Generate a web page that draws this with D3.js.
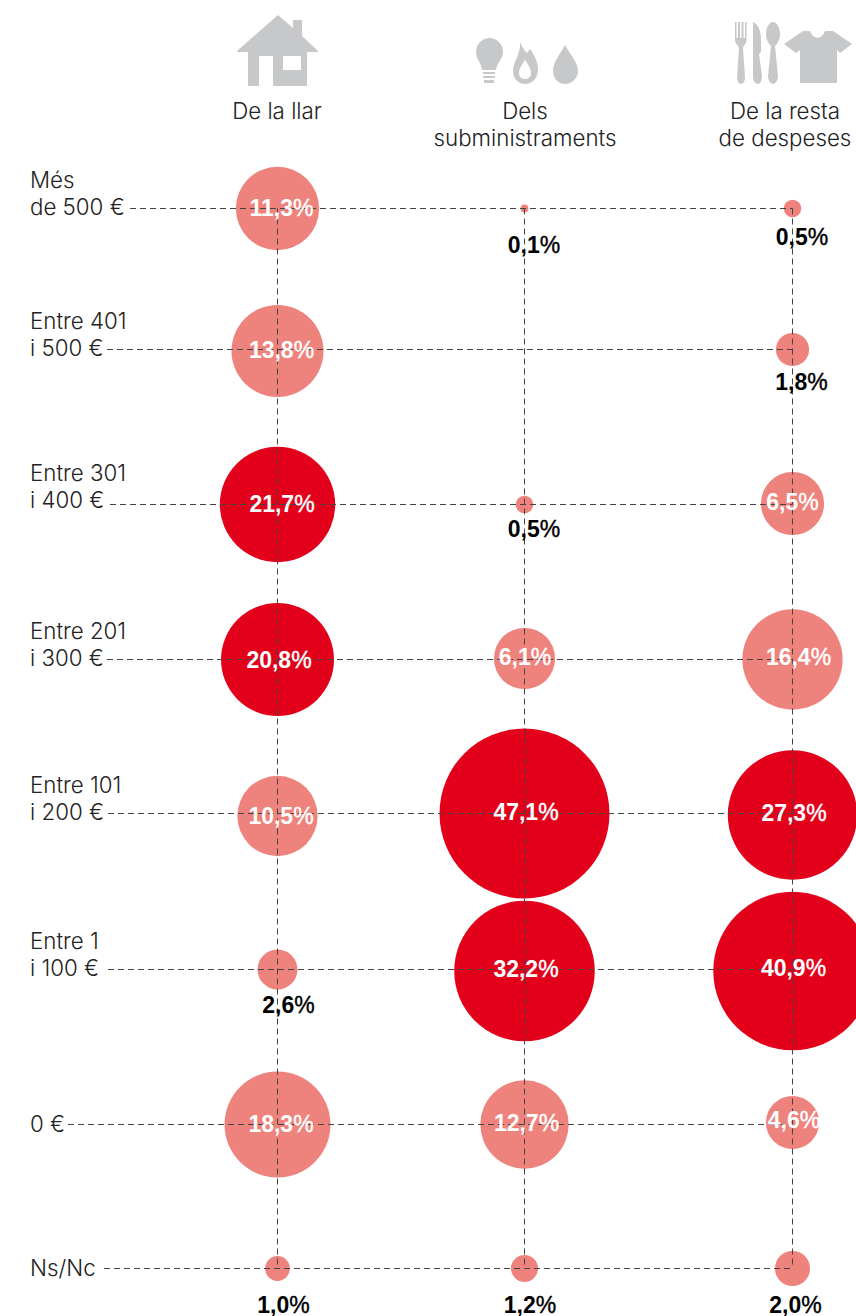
<!DOCTYPE html>
<html lang="ca">

<head>
  <meta charset="utf-8" />
  <title>Despeses</title>
  <script src="https://d3js.org/d3.v7.min.js"></script>
  <style>
    body {
      margin: 0;
      background: #fff;
      font-family: "Inter", "Liberation Sans", sans-serif;
    }

    svg {
      display: block;
    }

    .head,
    .row {
      font-size: 22.3px;
      font-weight: 300;
      fill: #222;
    }

    .val {
      font-family: "Liberation Sans", sans-serif;
      font-size: 23px;
      font-weight: bold;
      text-anchor: middle;
    }

    .val tspan {
      font-weight: normal;
      stroke-width: 0.4px;
    }

    .guide {
      stroke: #444;
      stroke-width: 1;
      stroke-dasharray: 6 4;
    }

    .icon {
      fill: #c6c8ca;
    }
  </style>
</head>

<body>
  <svg width="856" height="1316"></svg>

  <script>
    const columns = ["De la llar", "Dels subministraments", "De la resta de despeses"];
    const rows = ["Més de 500 €", "Entre 401 i 500 €", "Entre 301 i 400 €", "Entre 201 i 300 €",
      "Entre 101 i 200 €", "Entre 1 i 100 €", "0 €", "Ns/Nc"];

    const llar = [11.3, 13.8, 21.7, 20.8, 10.5, 2.6, 18.3, 1.0];
    const subministraments = [0.1, null, 0.5, 6.1, 47.1, 32.2, 12.7, 1.2];
    const resta = [0.5, 1.8, 6.5, 16.4, 27.3, 40.9, 4.6, 2.0];

    const series = [llar, subministraments, resta];

    const svg = d3.select("svg");

    const x = d3.scaleOrdinal().domain(columns).range([277.5, 524.5, 792.5]);
    const y = d3.scaleOrdinal().domain(rows).range([208.5, 349.5, 504.5, 659.5, 813.5, 969.5, 1124.5, 1268.5]);
    const r = d3.scaleSqrt().domain([0, 47.1]).range([0, 85]);

    const color = (v) => (v >= 20 ? "#e2001a" : "#ee827c");
    const textColor = (v) => (v < 4 ? "#000" : "#fff");

    // the circles do not sit exactly on the guides in the original
    const circleDy = [
      [0, 1.5, 0, 0, 2.5, 0, 0, 0],
      [0, 0, 0, -1, 0, 1.5, 0, 0],
      [0, 0, -1, 0, 1.5, 1.5, -2, 0],
    ];

    // hand placement of the value labels, one offset per cell
    const labelDx = [
      [4, 4, 4.5, 1.5, 3.5, 11, 3.5, 6],
      [9.5, 0, 9.5, 0.5, 1.5, 1.5, 2, 5.5],
      [9.5, 9, 0, 6, 1.5, 1, 1.5, 3],
    ];
    const labelDy = [
      [7, 8, 7, 8, 10, 43, 7, 44],
      [44, 0, 32, 5, 6, 7, 6, 44],
      [36, 40, 5, 5, 7, 6, 3, 44],
    ];

    // lines of each row label and where its dashes begin
    const rowLines = [["Més", "de 500 €"], ["Entre 401", "i 500 €"], ["Entre 301", "i 400 €"], ["Entre 201", "i 300 €"],
      ["Entre 101", "i 200 €"], ["Entre 1", "i 100 €"], ["0 €"], ["Ns/Nc"]];
    const lineStart = [130, 107, 110, 107, 108, 108, 68, 104];
    const rowBaseline = [6, 6, 3, 6, 6, 6, 7, 7];

    const cells = [];
    series.forEach((values, c) => {
      values.forEach((v, i) => {
        if (v !== null) cells.push({ col: columns[c], row: rows[i], value: v, c, i });
      });
    });

    // circles first, the dashed guides run over them
    svg.append("g")
      .selectAll("circle")
      .data(cells)
      .join("circle")
      .attr("cx", (d) => x(d.col))
      .attr("cy", (d) => y(d.row) + circleDy[d.c][d.i])
      .attr("r", (d) => r(d.value))
      .attr("fill", (d) => color(d.value));

    svg.append("g")
      .selectAll("line")
      .data(rows)
      .join("line")
      .attr("class", "guide")
      .attr("x1", (d, i) => lineStart[i])
      .attr("x2", x(columns[2]))
      .attr("y1", (d) => y(d))
      .attr("y2", (d) => y(d));

    svg.append("g")
      .selectAll("line")
      .data(columns)
      .join("line")
      .attr("class", "guide")
      .attr("x1", (d) => x(d))
      .attr("x2", (d) => x(d))
      .attr("y1", y(rows[0]))
      .attr("y2", y(rows[7]));

    const fmt = (v) => v.toFixed(1).replace(".", ",");

    const vals = svg.append("g")
      .selectAll("text")
      .data(cells)
      .join("text")
      .attr("class", "val")
      .attr("x", (d) => x(d.col) + labelDx[d.c][d.i])
      .attr("y", (d) => y(d.row) + labelDy[d.c][d.i])
      .attr("fill", (d) => textColor(d.value))
      .text((d) => fmt(d.value));
    vals.append("tspan")
      .attr("stroke", (d) => textColor(d.value))
      .text("%");

    // row labels
    const rowText = svg.append("g")
      .selectAll("text")
      .data(rows)
      .join("text")
      .attr("class", "row")
      .attr("x", 30)
      .attr("y", (d, i) => y(d) + rowBaseline[i]);
    rowText.selectAll("tspan")
      .data((d, i) => rowLines[i].map((t, k, a) => ({ t, dy: (k - a.length + 1) * 27 })))
      .join("tspan")
      .attr("x", 30)
      .attr("dy", (d, k) => (k === 0 ? d.dy : 27))
      .text((d) => d.t);

    // column heads
    const headLines = [["De la llar"], ["Dels", "subministraments"], ["De la resta", "de despeses"]];
    const headX = [277, 525, 785];
    svg.append("g")
      .selectAll("text")
      .data(headLines)
      .join("text")
      .attr("class", "head")
      .attr("text-anchor", "middle")
      .attr("y", 119)
      .selectAll("tspan")
      .data((d, c) => d.map((t, k) => ({ t, k, c })))
      .join("tspan")
      .attr("x", (d) => headX[d.c])
      .attr("dy", (d) => (d.k === 0 ? 0 : 27))
      .text((d) => d.t);

    // icons
    const icons = svg.append("g").attr("class", "icon");
    icons.append("path").attr("fill-rule", "evenodd")
      .attr("d", "M278 15L293 28V20H302V36L318 51V52H307V86H248V52H237V51ZM259 56V86H273V56ZM283 56V70H301V56Z");
    // bulb
    icons.append("path")
      .attr("d", "M489 38A14 14 0 0 1 503 52C503 59 497 62 496 70H482C481 62 476 59 476 52A14 14 0 0 1 489 38ZM483 72H495V74H483ZM483 76H495V78H483ZM484 80H494V83H484Z");
    // flame
    icons.append("path").attr("fill-rule", "evenodd")
      .attr("d", "M520 42C522 47 524 50 527 53L530 49C535 56 538 62 538 70C538 78 532 84 525 84C518 84 513 78 513 71C513 62 521 54 520 42ZM525 60C521 66 519 69 519 73C519 77 522 79 525 79C528 79 531 77 531 73C531 69 529 66 525 60Z");
    // drop
    icons.append("path")
      .attr("d", "M565 45C569 53 578 62 578 71C578 78 572 84 565 84C558 84 553 78 553 71C553 62 561 53 565 45Z");
    // fork, knife, spoon
    icons.append("path")
      .attr("d", "M735 22H736.5V38H738V22H740V38H741.5V22H743.5V38H745V22H746.5V40C746.5 44 743.5 45 743 48L745 78C745 81 743 84 741 84C739 84 737 81 737 78L739 48C738.5 45 735 44 735 40Z");
    icons.append("path")
      .attr("d", "M753 22C758 24 761 30 761 40V52L759 54L762 76C762 81 760 84 758 84C755 84 753 81 753 76Z");
    icons.append("path")
      .attr("d", "M773 22C777 22 780 28 780 34C780 40 777 44 775 46L778 76C778 81 775 84 773 84C771 84 768 81 768 76L771 46C769 44 766 40 766 34C766 28 769 22 773 22Z");
    // shirt
    icons.append("path")
      .attr("d", "M784 44L803 31H810C813 40 822 40 825 31H833L852 44L840 53L837 50V83H800V50L796 53Z");
  </script>
</body>

</html>
